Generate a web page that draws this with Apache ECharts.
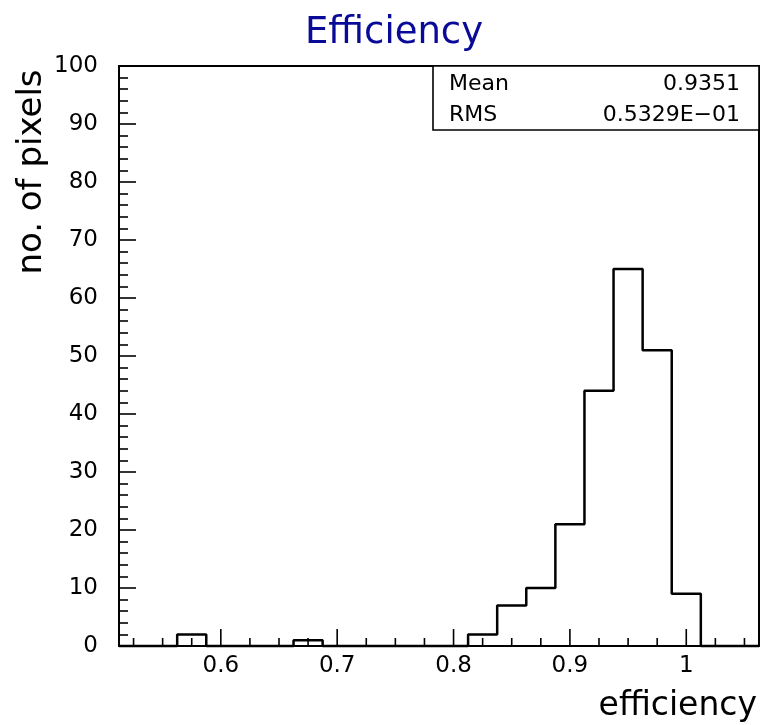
<!DOCTYPE html>
<html><head><meta charset="utf-8">
<script src="https://cdn.jsdelivr.net/npm/echarts@6/dist/echarts.min.js"></script>
<style>html,body{margin:0;padding:0;background:#fff}#c{width:763px;height:725px}</style>
</head><body><div id="c"></div>
<script>
// ---- data ----
const binEdges = [0.5125,0.5375,0.5625,0.5875,0.6125,0.6375,0.6625,0.6875,0.7125,0.7375,0.7625,0.7875,
                  0.8125,0.8375,0.8625,0.8875,0.9125,0.9375,0.9625,0.9875,1.0125,1.0375,1.0625];
const counts   = [0,0,2,0,0,0,1,0,0,0,0,0,2,7,10,21,44,65,51,9,0,0];
const xMajorTicks = [0.6,0.7,0.8,0.9,1.0];
const xMinorTicks = [0.525,0.55,0.575,0.625,0.65,0.675,0.725,0.75,0.775,0.825,0.85,0.875,0.925,0.95,0.975,1.025,1.05];
const statsLabels = ['Mean','RMS'];
const statsValues = ['0.9351','0.5329E\u221201'];
const titleText = 'Efficiency';
const xTitle = 'efficiency';
const yTitle = 'no. of pixels';

// ---- build ----
const stepData = counts.map((c,i)=>[binEdges[i], c]);
stepData.push([binEdges[binEdges.length-1], counts[counts.length-1]]);
const FONT = 'DejaVu Sans';

function tickSeries(ticks, len){
  return {
    type:'custom', silent:true, clip:false, z:5,
    data: ticks.map(v=>[v,0]),
    encode:{x:0,y:1},
    renderItem:(params, api)=>{
      const p = api.coord([api.value(0), 0]);
      return {type:'line', shape:{x1:p[0], y1:p[1], x2:p[0], y2:p[1]-len},
              style:{stroke:'#000', lineWidth:1.6}};
    }
  };
}

const chart = echarts.init(document.getElementById('c'), null, {renderer:'canvas'});
chart.setOption({
  backgroundColor:'#fff',
  animation:false,
  grid:{left:119, right:4, top:66, bottom:79, show:true, borderColor:'#000', borderWidth:2, backgroundColor:'transparent'},
  xAxis:{
    type:'value', min:binEdges[0], max:binEdges[binEdges.length-1], splitNumber:5,
    axisLine:{show:true, lineStyle:{color:'#000', width:2}},
    axisTick:{show:false}, splitLine:{show:false},
    axisLabel:{color:'#000', fontFamily:FONT, fontSize:23, margin:9,
      formatter:(v)=>{ const r=Math.round(v*10); return Math.abs(v*10-r)<1e-6 ? String(r/10) : ''; }}
  },
  yAxis:{
    type:'value', min:0, max:100, interval:10,
    axisLine:{show:true, lineStyle:{color:'#000', width:2}},
    axisTick:{show:true, inside:true, length:17, lineStyle:{color:'#000', width:1.6}},
    minorTick:{show:true, splitNumber:5, length:9, lineStyle:{color:'#000', width:1.6}},
    splitLine:{show:false},
    axisLabel:{color:'#000', fontFamily:FONT, fontSize:23, margin:21}
  },
  series:[
    {type:'line', step:'end', data:stepData, showSymbol:false, symbol:'none', clip:false, z:4,
     lineStyle:{color:'#000', width:2.5}},
    tickSeries(xMajorTicks, 17),
    tickSeries(xMinorTicks, 8)
  ],
  graphic:[
    {type:'text', x:394, y:33, z:10, style:{text:titleText, fontFamily:FONT, fontSize:37, fill:'#0a0a99', textAlign:'center', textVerticalAlign:'middle'}},
    {type:'text', x:32, y:172, rotation:Math.PI/2, z:10, style:{text:yTitle, fontFamily:FONT, fontSize:34, fill:'#000', textAlign:'center', textVerticalAlign:'middle'}},
    {type:'text', x:757, y:706, z:10, style:{text:xTitle, fontFamily:FONT, fontSize:33, fill:'#000', textAlign:'right', textVerticalAlign:'middle'}},
    {type:'rect', x:433, y:66, z:10, shape:{width:326, height:64}, style:{fill:'#fff', stroke:'#000', lineWidth:1.6}},
    {type:'text', x:449, y:84, z:11, style:{text:statsLabels[0], fontFamily:FONT, fontSize:22, fill:'#000', textVerticalAlign:'middle'}},
    {type:'text', x:740, y:84, z:11, style:{text:statsValues[0], fontFamily:FONT, fontSize:22, fill:'#000', textAlign:'right', textVerticalAlign:'middle'}},
    {type:'text', x:449, y:115, z:11, style:{text:statsLabels[1], fontFamily:FONT, fontSize:22, fill:'#000', textVerticalAlign:'middle'}},
    {type:'text', x:740, y:115, z:11, style:{text:statsValues[1], fontFamily:FONT, fontSize:22, fill:'#000', textAlign:'right', textVerticalAlign:'middle'}}
  ]
});
</script></body></html>
